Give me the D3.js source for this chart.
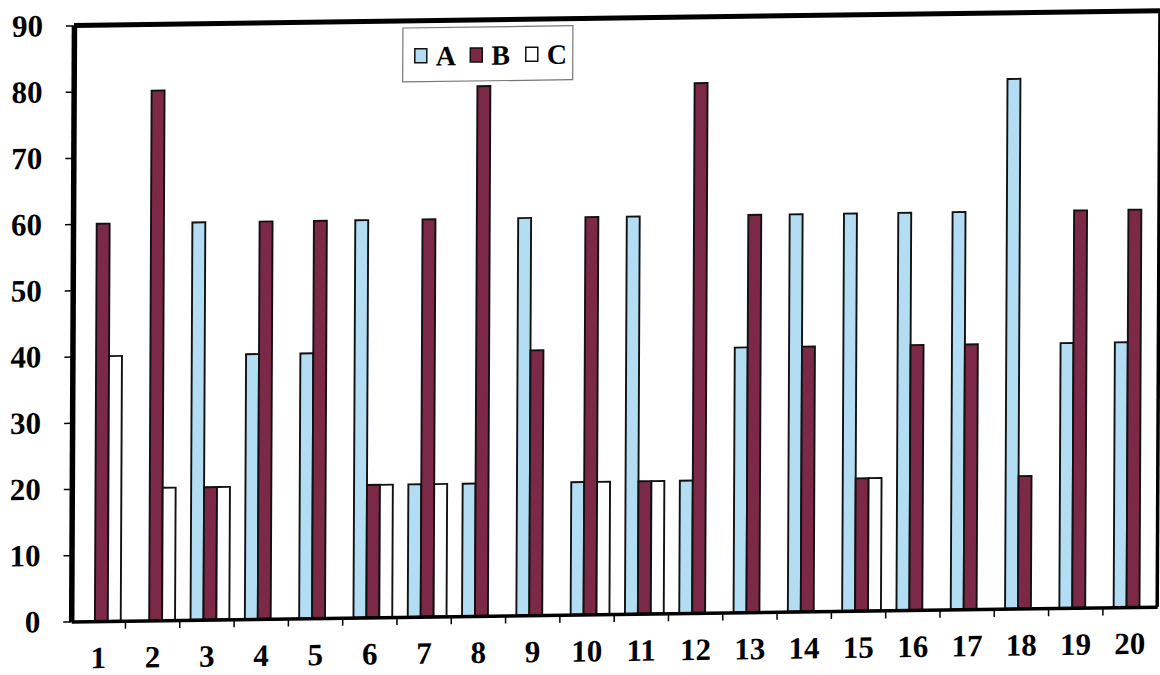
<!DOCTYPE html>
<html>
<head>
<meta charset="utf-8">
<script src="https://cdn.jsdelivr.net/npm/d3@7"></script>
<style>
html, body { margin: 0; padding: 0; background: #ffffff; }
svg { display: block; }
</style>
</head>
<body>
<svg id="chart" width="1160" height="675"></svg>
<script>
// ---- data ----
const categories = ["1","2","3","4","5","6","7","8","9","10","11","12","13","14","15","16","17","18","19","20"];
const seriesNames = ["A", "B", "C"];
const valuesA = [0, 0, 60, 40, 40, 60, 20, 20, 60, 20, 60, 20, 40, 60, 60, 60, 60, 80, 40, 40];
const valuesB = [60, 80, 20, 60, 60, 20, 60, 80, 40, 60, 20, 80, 60, 40, 20, 40, 40, 20, 60, 60];
const valuesC = [40, 20, 20, 0, 0, 20, 20, 0, 0, 20, 20, 0, 0, 0, 20, 0, 0, 0, 0, 0];
const yTickValues = [0, 10, 20, 30, 40, 50, 60, 70, 80, 90];

// ---- styling ----
const seriesColors = { A: "#b3ddf3", B: "#7b2946", C: "#ffffff" };
const fontFamily = "'Liberation Serif', 'Times New Roman', serif";
const W = 1086, H = 596;

const svg = d3.select("#chart");
// the scanned original is slightly tilted: reproduce with an affine transform
const g = svg.append("g")
  .attr("transform", "matrix(1,-0.01358,-0.00462,1,73.95,25.45)");

const x0 = d3.scaleBand().domain(categories).range([0, W]).padding(0);
const x1 = d3.scaleBand().domain(seriesNames)
  .range([3, x0.bandwidth() + 3]).paddingInner(0).paddingOuter(0.6);
const y = d3.scaleLinear().domain([0, 90]).range([H, 0]);

const seriesValues = { A: valuesA, B: valuesB, C: valuesC };
const rows = categories.map((c, i) => ({
  cat: c,
  vals: seriesNames.map(s => ({ s, v: seriesValues[s][i] }))
}));

// ---- bars ----
const catG = g.append("g").selectAll("g").data(rows).join("g")
  .attr("transform", d => `translate(${x0(d.cat)},0)`);
catG.selectAll("rect").data(d => d.vals.filter(e => e.v > 0)).join("rect")
  .attr("x", d => x1(d.s))
  .attr("y", d => y(d.v))
  .attr("width", x1.bandwidth())
  .attr("height", d => y(0) - y(d.v))
  .attr("fill", d => seriesColors[d.s])
  .attr("stroke", "#111")
  .attr("stroke-width", 1.9);

// ---- frame (top & right) ----
g.append("line").attr("x1", 0).attr("x2", W).attr("y1", 0).attr("y2", 0)
  .attr("stroke", "#000").attr("stroke-width", 5);
g.append("line").attr("x1", W).attr("x2", W).attr("y1", 0).attr("y2", H)
  .attr("stroke", "#000").attr("stroke-width", 3.5);

// ---- y axis ----
const yAxis = g.append("g")
  .call(d3.axisLeft(y).tickValues(yTickValues).tickSize(8).tickSizeOuter(0).tickPadding(23));
yAxis.select(".domain").attr("stroke", "#000").attr("stroke-width", 5.5);
yAxis.selectAll(".tick line").attr("stroke", "#000").attr("stroke-width", 1.5);
yAxis.selectAll(".tick text")
  .attr("font-family", fontFamily).attr("font-size", 31).attr("font-weight", "bold")
  .attr("fill", "#000");

// ---- x axis ----
const xAxis = g.append("g").attr("transform", `translate(0,${H})`)
  .call(d3.axisBottom(x0).tickSize(0).tickPadding(25));
xAxis.select(".domain").attr("stroke", "#000").attr("stroke-width", 3.5);
xAxis.selectAll(".tick text")
  .attr("font-family", fontFamily).attr("font-size", 31).attr("font-weight", "bold")
  .attr("fill", "#000");
// category boundary tick marks
g.append("g").selectAll("line").data(categories.slice(1)).join("line")
  .attr("x1", d => x0(d)).attr("x2", d => x0(d))
  .attr("y1", H).attr("y2", H + 8)
  .attr("stroke", "#000").attr("stroke-width", 1.5);

// ---- legend ----
const legend = g.append("g").attr("transform", "translate(329,7)");
legend.append("rect").attr("width", 170).attr("height", 54)
  .attr("fill", "#fff").attr("stroke", "#777").attr("stroke-width", 1.2);
const items = legend.selectAll("g.item").data(seriesNames).join("g")
  .attr("class", "item")
  .attr("transform", (d, i) => `translate(${12 + i * 55.5},0)`);
items.append("rect").attr("x", 0).attr("y", 21).attr("width", 12).attr("height", 14)
  .attr("fill", d => seriesColors[d]).attr("stroke", "#111").attr("stroke-width", 1.5);
items.append("text").attr("x", 21).attr("y", 38)
  .attr("font-family", fontFamily).attr("font-size", 28).attr("font-weight", "bold")
  .attr("fill", "#000").text(d => d);
</script>
</body>
</html>
